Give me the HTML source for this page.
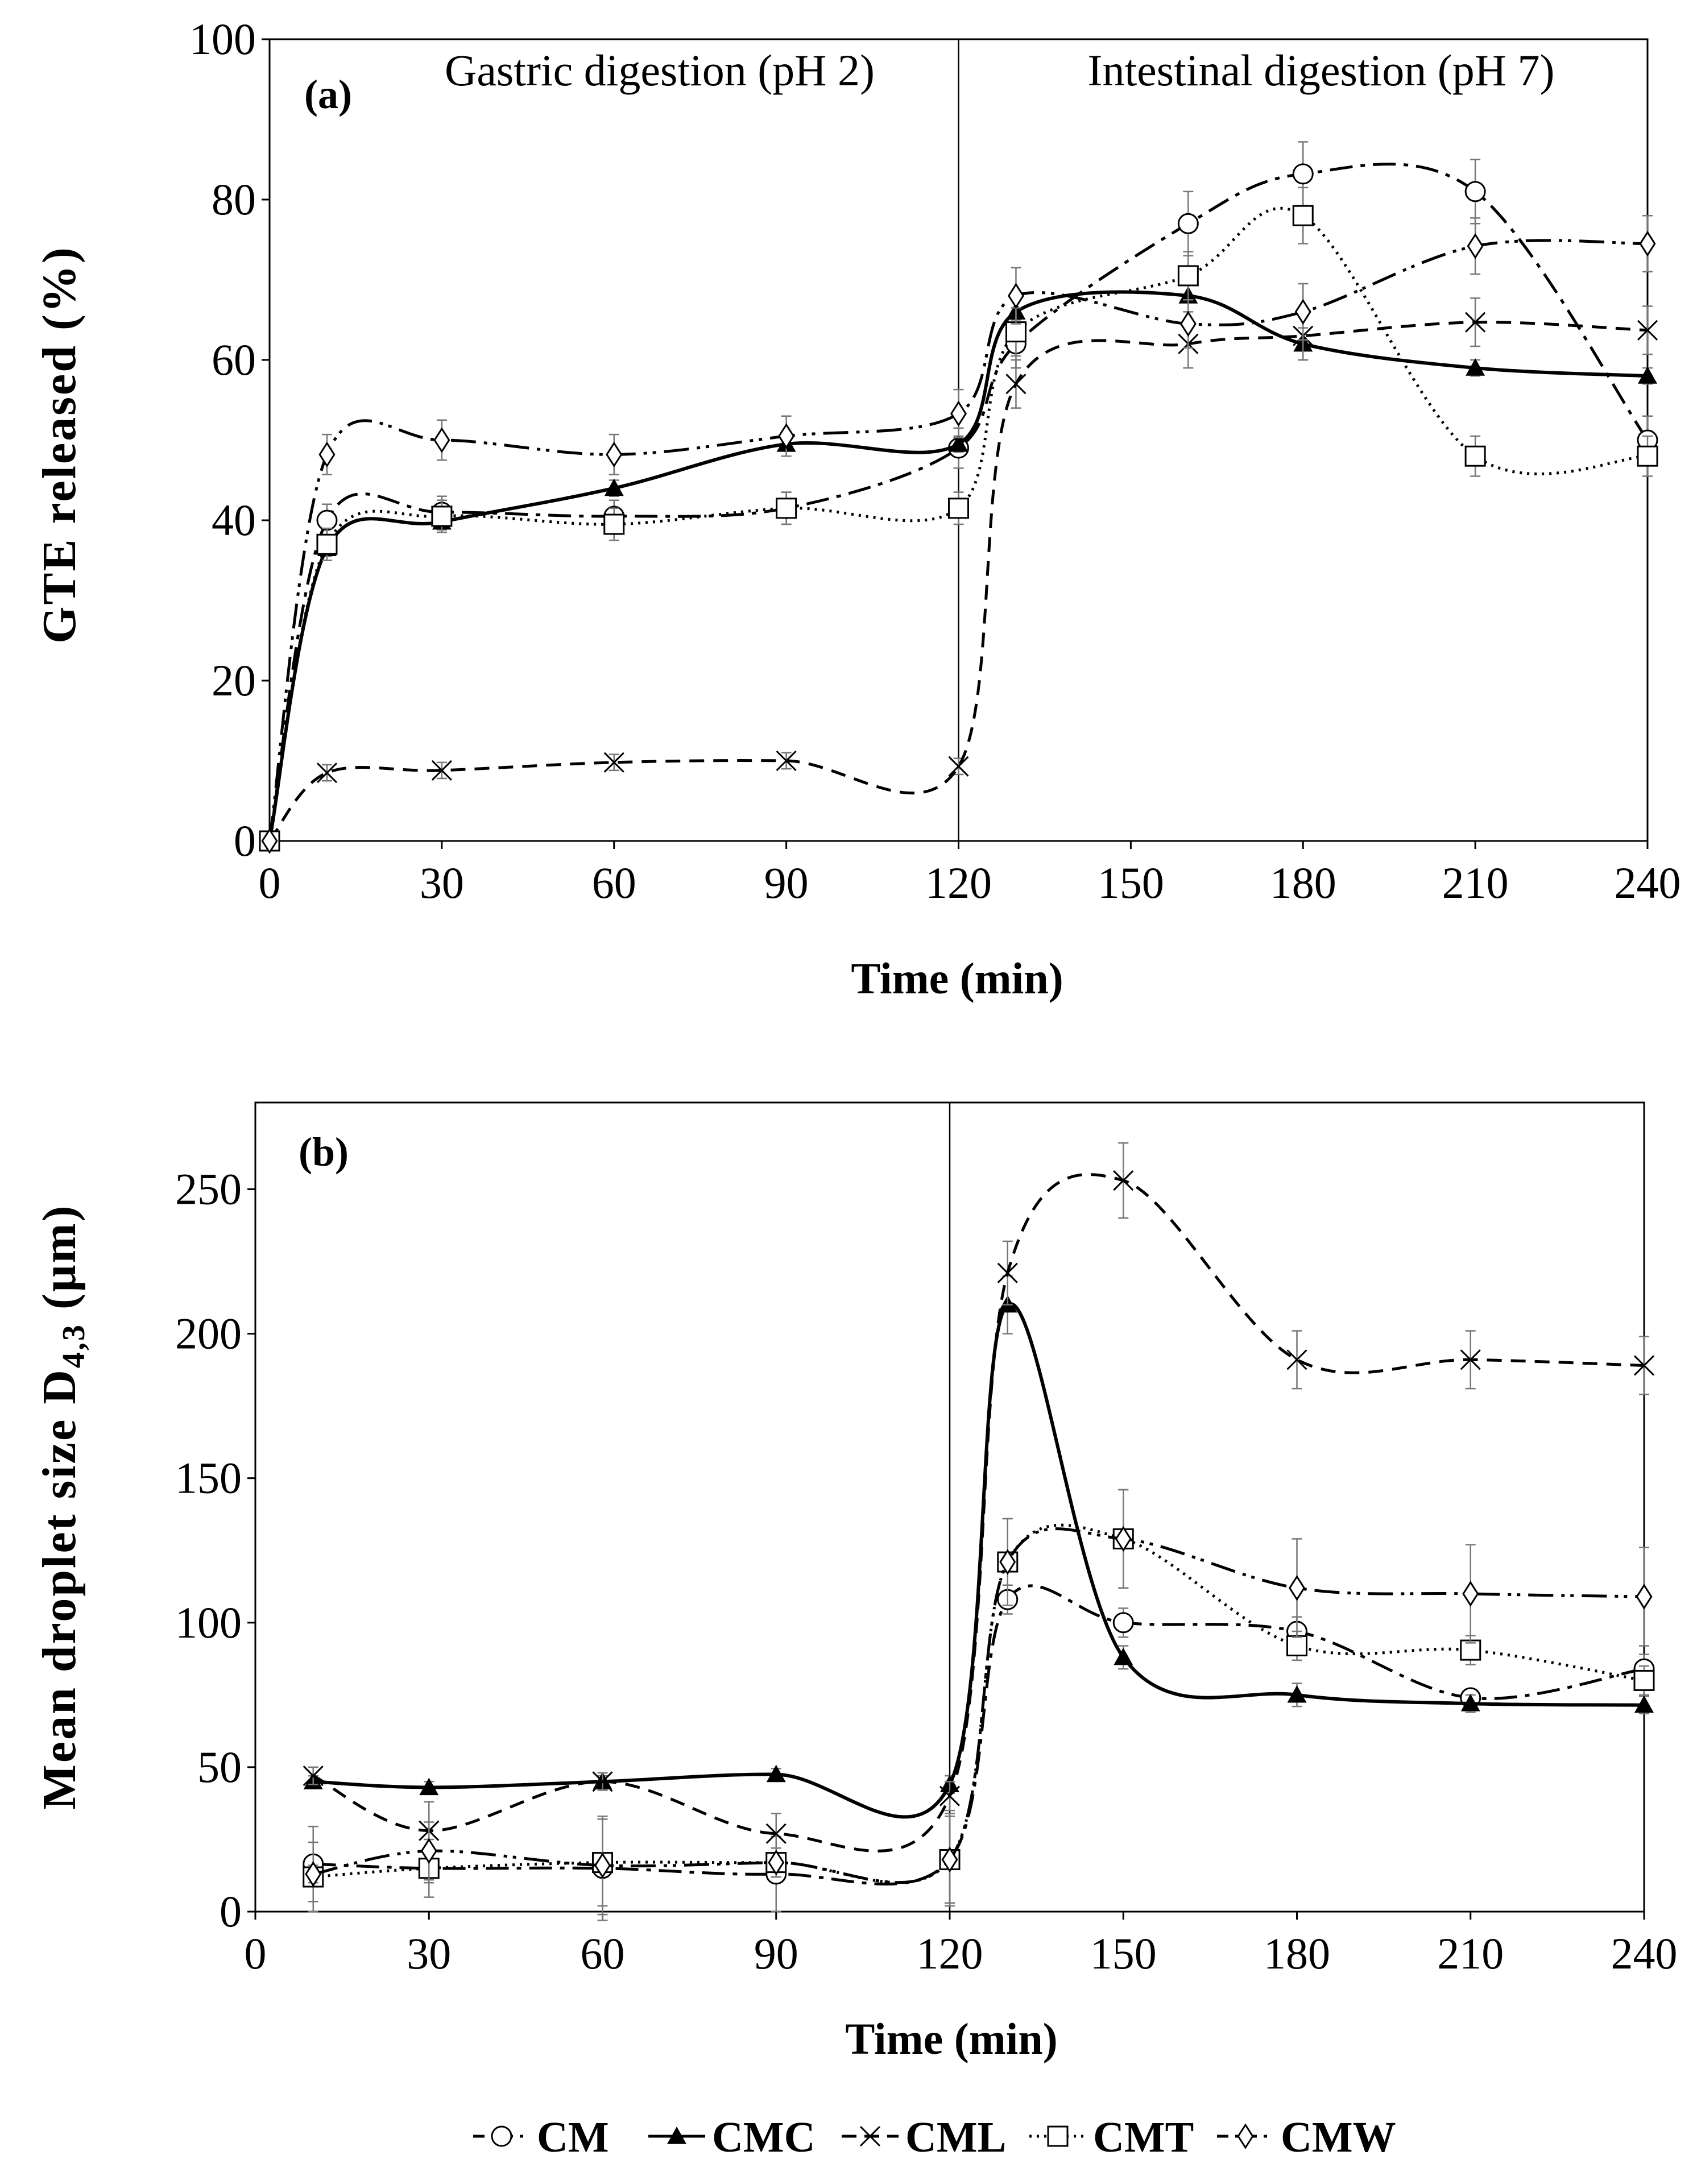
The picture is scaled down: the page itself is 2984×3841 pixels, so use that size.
<!DOCTYPE html>
<html><head><meta charset="utf-8"><style>
html,body{margin:0;padding:0;background:#fff;}
svg{display:block;font-family:"Liberation Serif",serif;}
</style></head><body>
<svg id="fig" width="2984" height="3841" viewBox="0 0 2984 3841" xmlns="http://www.w3.org/2000/svg"></svg>
<script>
// ---------- data panel (a) ----------
const timeA = [0,10,30,60,90,120,130,160,180,210,240];
const cmA  = [0,40,41,40.5,41.5,49,62,77,83.2,81,50];
const cmcA = [0,36.5,39.8,44,49.5,49.5,66,68,62,59,58];
const cmlA = [0,8.5,8.8,9.8,10,9.3,57,62,63,64.7,63.7];
const cmtA = [0,37,40.5,39.5,41.5,41.5,63.5,70.5,78,48,48];
const cmwA = [0,48.2,50,48.2,50.5,53.3,68,64.5,66,74.2,74.5];
const errCmA  = [0,2,2,2,2,2.5,3,4,4,4,3];
const errCmcA = [0,1,1,1,1.5,1,2,2,2,1,1];
const errCmlA = [0,1,1,1,1,1,3,3,3,3,3];
const errCmtA = [0,2,2,2,2,2,3,3,3.5,2.5,2.5];
const errCmwA = [0,2.5,2.5,2.5,2.5,3,3.5,3,3.5,3.5,3.5];
const yTicksA = [0,20,40,60,80,100];
const xTicks = [0,30,60,90,120,150,180,210,240];
// ---------- data panel (b) ----------
const timeB = [10,30,60,90,120,130,150,180,210,240];
const cmB  = [16.5,15,15,13,18,108,100,97,74,84];
const cmcB = [45,43,45,47.5,44,210,88,75,72,71.5];
const cmlB = [47,28,45,27,40,221,253,191,191,189];
const cmtB = [12,15,17,17,18,121,129,92,90.5,80];
const cmwB = [13,21,16,17,18,121,129,112,110,109];
const errCmB  = [13,10,18,13,16,5,5,5,3,5];
const errCmcB = [2,2,2,2,3,10,4,4,3,3];
const errCmlB = [3,10,3,7,5,11,13,10,10,10];
const errCmtB = [12,5,15,5,15,15,17,5,5,5];
const errCmwB = [3,10,17,5,15,15,17,17,17,17];
const yTicksB = [0,50,100,150,200,250];

const NS="http://www.w3.org/2000/svg";
const svg=document.getElementById('fig');
function mk(tag,attrs,parent){const e=document.createElementNS(NS,tag);for(const k in attrs)e.setAttribute(k,attrs[k]);(parent||svg).appendChild(e);return e;}
function smooth(pts){let d=`M${pts[0][0]},${pts[0][1]}`;for(let i=0;i<pts.length-1;i++){const p0=pts[i-1]||pts[i],p1=pts[i],p2=pts[i+1],p3=pts[i+2]||p2;const t=6;const c1=[p1[0]+(p2[0]-p0[0])/t,p1[1]+(p2[1]-p0[1])/t];const c2=[p2[0]-(p3[0]-p1[0])/t,p2[1]-(p3[1]-p1[1])/t];d+=` C${c1[0]},${c1[1]} ${c2[0]},${c2[1]} ${p2[0]},${p2[1]}`;}return d;}
const styles={CM:'40,14,8,14',CMC:'none',CML:'26,16',CMT:'4,9',CMW:'44,14,6,10,6,14'};
function marker(g,type,x,y){
  const s=17;
  if(type==='CM'){return mk('circle',{cx:x,cy:y,r:s,fill:'#fff',stroke:'#000','stroke-width':3},g);}
  if(type==='CMC'){return mk('polygon',{points:`${x},${y-s} ${x+s},${y+s*0.8} ${x-s},${y+s*0.8}`,fill:'#000'},g);}
  if(type==='CML'){return mk('path',{d:`M${x-s},${y-s}L${x+s},${y+s}M${x-s},${y+s}L${x+s},${y-s}`,stroke:'#000','stroke-width':3,fill:'none'},g);}
  if(type==='CMT'){return mk('rect',{x:x-s,y:y-s,width:2*s,height:2*s,fill:'#fff',stroke:'#000','stroke-width':3},g);}
  return mk('polygon',{points:`${x},${y-s-3} ${x+s*0.75},${y} ${x},${y+s+3} ${x-s*0.75},${y}`,fill:'#fff',stroke:'#000','stroke-width':3},g);
}
function panel(cfg){
  const {L,R,T,B,ymax,times,series,yTicks,name}=cfg;
  const X=v=>L+(v/240)*(R-L), Y=v=>B-(v/ymax)*(B-T);
  const g=mk('g',{});
  
  
  const ax=mk('g',{},g);
  
  
  mk('rect',{x:L,y:T,width:R-L,height:B-T,fill:'none',stroke:'#000','stroke-width':3},ax);
  mk('line',{x1:X(120),x2:X(120),y1:T,y2:B,stroke:'#000','stroke-width':2.5},ax);
  xTicks.forEach(t=>{mk('line',{x1:X(t),x2:X(t),y1:B,y2:B+14,stroke:'#000','stroke-width':3},ax);
    const tx=mk('text',{x:X(t),y:B+100,'font-size':78,'text-anchor':'middle'},ax);tx.textContent=t;
    });
  yTicks.forEach(t=>{mk('line',{x1:L-14,x2:L,y1:Y(t),y2:Y(t),stroke:'#000','stroke-width':3},ax);
    const tx=mk('text',{x:L-24,y:Y(t)+26,'font-size':78,'text-anchor':'end'},ax);tx.textContent=t;
    });
  series.forEach(s=>{
    const sg=mk('g',{},g);
    
    
    s.e.forEach((e,i)=>{if(e>0){const x=times[i];mk('path',{d:`M${X(x)},${Y(s.v[i]-e)}V${Y(s.v[i]+e)}M${X(x)-9},${Y(s.v[i]-e)}h18M${X(x)-9},${Y(s.v[i]+e)}h18`,stroke:'#777','stroke-width':2.5,fill:'none'},sg);}});
    const pts=times.map((t,i)=>[X(t),Y(s.v[i])]);
    const p=mk('path',{d:smooth(pts),fill:'none',stroke:'#000','stroke-width':s.k==='CMC'?6:5},sg);
    if(styles[s.k]!=='none')p.setAttribute('stroke-dasharray',styles[s.k]);
    pts.forEach(q=>{const m=marker(sg,s.k,q[0],q[1]);});
  });
  return {X,Y};
}
panel({L:474,R:2897,T:69,B:1479,ymax:100,times:timeA,yTicks:yTicksA,name:'panel-a',
  series:[{k:'CM',v:cmA,e:errCmA},{k:'CMC',v:cmcA,e:errCmcA},{k:'CML',v:cmlA,e:errCmlA},{k:'CMT',v:cmtA,e:errCmtA},{k:'CMW',v:cmwA,e:errCmwA}]});
panel({L:449,R:2891,T:1939,B:3362,ymax:280,times:timeB,yTicks:yTicksB,name:'panel-b',
  series:[{k:'CM',v:cmB,e:errCmB},{k:'CMC',v:cmcB,e:errCmcB},{k:'CML',v:cmlB,e:errCmlB},{k:'CMT',v:cmtB,e:errCmtB},{k:'CMW',v:cmwB,e:errCmwB}]});
function txt(x,y,s,attrs,name){const t=mk('text',Object.assign({x:x,y:y},attrs));t.textContent=s;return t;}
txt(535,190,'(a)',{'font-size':72,'font-weight':'bold'},'panel-a-label');
txt(1160,150,'Gastric digestion (pH 2)',{'font-size':78,'text-anchor':'middle'},'gastric-annotation');
txt(2323,150,'Intestinal digestion (pH 7)',{'font-size':78,'text-anchor':'middle'},'intestinal-annotation');
txt(1683,1747,'Time (min)',{'font-size':78,'font-weight':'bold','text-anchor':'middle'},'x-axis-title-a');
txt(0,0,'GTE released (%)',{'font-size':84,'font-weight':'bold','text-anchor':'middle','letter-spacing':3,transform:'translate(132,782) rotate(-90)'},'y-axis-title-a');
txt(525,2050,'(b)',{'font-size':72,'font-weight':'bold'},'panel-b-label');
txt(1673,3612,'Time (min)',{'font-size':78,'font-weight':'bold','text-anchor':'middle'},'x-axis-title-b');
const yb=mk('text',{'font-size':84,'font-weight':'bold','text-anchor':'middle','letter-spacing':3,transform:'translate(132,2650) rotate(-90)'});


yb.innerHTML='Mean droplet size D<tspan font-size="56" dy="16">4,3</tspan><tspan dy="-16"> (μm)</tspan>';
// legend
const lg=mk('g',{});


const legKeys=['CM','CMC','CML','CMT','CMW'];
const legX=[832,1140,1480,1810,2140];
legKeys.forEach((k,i)=>{
  const eg=mk('g',{},lg);
  
  
  const x=legX[i],y=3757;
  const l=mk('line',{x1:x,x2:x+100,y1:y,y2:y,stroke:'#000','stroke-width':5},eg);
  if(styles[k]!=='none')l.setAttribute('stroke-dasharray',k==='CMT'?'4,9':(k==='CML'?'26,14':'20,12,6,12'));
  marker(eg,k,x+50,y);
  const t=mk('text',{x:x+112,y:y+27,'font-size':76,'font-weight':'bold'},eg);t.textContent=k;
});
</script>
</body></html>
